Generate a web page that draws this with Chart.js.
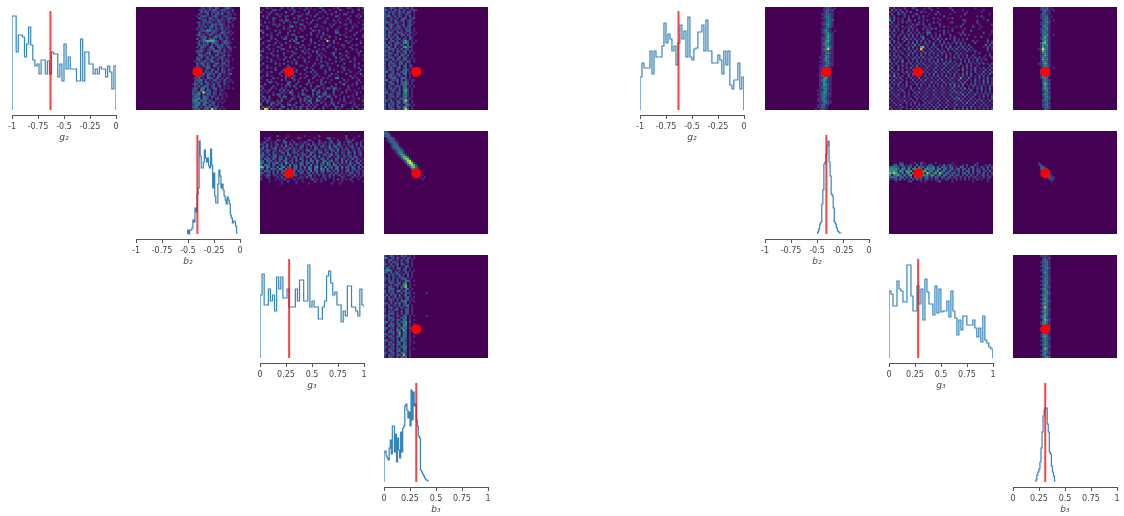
<!DOCTYPE html>
<html>
<head>
<meta charset="utf-8">
<title>Corner plots</title>
<script src="https://cdn.jsdelivr.net/npm/chart.js@4"></script>
<style>
  body { margin: 0; background: #fff; width: 1124px; height: 516px; overflow: hidden; position: relative; }
  canvas { position: absolute; }
</style>
</head>
<body>
<script>
// true parameter values (red marks)
const truthG2 = -0.63;
const truthB2 = -0.41;
const truthG3 = 0.28;
const truthB3 = 0.31;

const negTicks = ['-1', '-0.75', '-0.5', '-0.25', '0'];
const posTicks = ['0', '0.25', '0.5', '0.75', '1'];

// histograms, left corner
const histG2Left = [94,94,58,75,75,73,53,66,83,65,50,44,46,36,50,50,36,49,36,58,56,56,33,46,29,66,41,53,41,41,41,29,29,71,29,58,58,46,46,36,41,36,43,41,41,33,44,38,21,44];
const histB2Left = [4,0,4,4,6,14,12,26,22,40,46,93,78,66,66,72,84,76,72,76,68,66,85,69,46,61,38,31,31,50,64,58,46,50,44,38,34,30,37,34,30,19,16,11,13,13,8,1];
const histG3Left = [63,84,53,53,69,57,63,47,81,69,81,60,60,69,51,51,51,69,57,78,78,57,57,93,51,57,51,51,39,39,51,57,82,87,75,63,66,53,53,36,47,42,72,72,51,51,47,42,69,53,51];
const histB3Left = [30,31,26,24,22,34,42,28,56,56,30,48,20,44,32,24,50,30,54,56,76,78,72,64,70,56,92,62,90,76,78,62,56,46,44,12,10,8,6,4,2,2,1];
// histograms, right corner
const histG2Right = [33,47,42,42,42,59,36,59,53,53,53,64,87,67,76,71,59,64,45,67,85,71,79,53,93,53,50,61,62,78,78,85,59,90,59,59,47,47,47,55,50,36,59,45,59,25,21,30,30,47,21,33];
const histB2Right = [2,5,10,12,30,44,70,72,80,88,93,72,58,40,38,26,12,10,6,3,2,1,1];
const histG3Right = [67,64,52,52,77,69,67,56,56,93,93,62,47,47,72,54,69,38,79,66,54,54,43,72,45,69,46,47,47,57,41,67,47,40,23,38,28,42,42,33,33,33,38,30,21,30,16,42,18,15,11,9];
const histB3Right = [2,7,10,13,20,34,50,66,72,74,74,58,50,30,28,16,10,6,1];

// 2d histograms, one string per row from the top, '.' is an empty bin, 1-9 is the count level
const heatG2B2Left = [
"....12.121.32..1341...",
"...1212.2132.12211.2..",
"....3122.1213.2112.1..",
"...21.13.2.2213..21.1.",
"..1.2321.1231.12211...",
"...3211.42.21.2.12212.",
"....123.212.3211.3.1..",
"..12.31231.12211.21...",
"...212.1.3221321.1.1..",
"...2113.2412.131.2.1..",
"..2.31.122.2113.21....",
"...1223541221.22.11...",
"...31.12.221.14212.1..",
"..2412.132.122.21.1...",
"...1223.1.2413.121....",
"..3.142.3221.22.21.1..",
"...2135666521.1231....",
"..12.213.2321.13221...",
"...31221.2.2213.21....",
"..2.421.231.3221.41.1.",
"...131.1223.13.2.12...",
"..3241.12.2422.31.1...",
"..121.133.1.3121.1....",
"...3412.21.32.13.21...",
"..213.14.22.1231.1....",
"..331.1223.12.3.21.1..",
".1.2123.142.1.2112....",
"..3142.31.132.23.1....",
"..21.4131.32.12.21....",
".1321.242.1.3.21.1.1..",
"..213.12.31.2.31.21...",
"..342.3112.41.22.1....",
".12.13.2312.13.1.13...",
"..3221.41.2.22.1.1....",
".213.1.332.13.1.21....",
".1324.2.1.32.2.31.1...",
".2132.32.2.121.2.1.1..",
"132.4.131.3.21.21.....",
".213.242.22.13.1.1....",
"132.35.3.132.1.1.1.1..",
"231.62.42.12.12.......",
"2134.9313.21.1.1......",
"3245.2.42.21.21.1.....",
"1432.432.31.1.1.1.....",
"2345.342.1.22.1.......",
"354.423.31.1.1.1......",
"2435.342.23.1.1.......",
"1343.42.312.1.........",
"234.2.323.121.1.......",
"1323.133.832.1.1......"
];
const heatG2G3Left = [
"...2.1....2..1.3...1..2.1...12.....1.2....21...1.2",
".1....22.1....1.2....2.1..1...2..1....21....1..2..",
"2..1.2......3...2.1....2....11.2....2.....1.2....1",
"....2..12.1....2....1.21...2....1.2...1.22.....1..",
".2.1.....2..21....22....1.2...1.....22.....1..2.2.",
"...2..31....1...2.1...2.....21..2.....1...2....1..",
"1.....2..12.32....1.2....2.1...1...2.1...1.2.....1",
"..2.1.1....2..1.22....1.2.....12....1.2....2...1..",
"2.....21.2....1....32..1...2.....1.2....12...1...2",
".1.2....2..1..25.1...2....21.1....2...1.....2.1...",
"...21......2.1.....2.1..2.....1.2....1...2..1....2",
"31.....2.1....2.2...1....21.2...1...21.....2....1.",
".3...1...2...2....1.....2...1.2.....32...1....2...",
"...2.1..2....1.22.....1.2..1..2.1.....2.1....2...1",
".1...2....1.2....2.32......1.2...3..1....2.1.....2",
"2....1.2...22..1.3...1..2....1.2....1.2.....1.2...",
"...12...1.....2.31..2...2...1...81.2.....2.1....1.",
".2.....2.1..2....23.....1.2...1....2.1....2.....2.",
"1...2.1...2...1.....2..1....2.1..2.....21...1.2...",
"...2....21....2.1..2.1....2.....2..1....1..2.....1",
".1..2.1...22.....2...1.2....1.2.....2.1.....2.1...",
"22....1.2....1.2....3.1..2.3...1....1....2....1.2.",
"...1.2.....2....21...2.1...2.1....14..2...1....2..",
"4.....2.2..1...2...1....1...2.1....2...1.2.....1.1",
".1.2....1...2.2...2.1..2...1.2.1....3.1...2..1....",
"2....2...1.2....2....2.....2.1...2.....21....2...1",
"...1.2.1.....2.1.2...2.1.....2.1....2.1....2.1....",
".2.....2.1.2...1.3....1...2.1...2.1.....2....1.2..",
"1..2.....1...2.....21....2...22.1....2.1.....2...1",
"...2.1.2....1.2.1.....2.1....2...2.....12....1.2..",
".1.....2...2...1.2...2...2.....1.2.1....2.1.....2.",
"2..1.2....2.1..6.2....1.2.2....2.....2.1...2...1..",
"...2.....2.....1...2.1...1.2...1..2.1....2....1.3.",
".1.2.1....1.2...2.....2...2.1....2...1.....2.1...1",
"2.....2.1...2..31..2.1...2....2.1...34.1....2.1...",
"...2.1....2.1...2.1....2...1.2....1.....2.1....2..",
"1...32.1.....23...2....2.1...2.2.1....2..1....2.1.",
"..2.....2.1..41..2....2.1....21.....2..14...1.2...",
"31....2.....2.2.3..2....2..32.1...2.1.....2.1....1",
".2...2.1..2.1....2...2..1.2...1.32.42.1...2....1.2",
"2.1.3....2.3.1.2....3.2..41.2..1...3.1...2.1.1....",
".1.2..1...2.1.52..1.2....2.23.14...2...2.1....2.1.",
"2.....2.32.1...2..1.42...3.2..43.1.2..1.....1.2...",
".31.2....2.32...1.2...23.1..521.34..2...1.2.1....1",
"1.2.2.....2.1..31..2.41.2..3.1.2..2...1.2....1.2..",
".2.31...2.3...2....3.2.42..52.1...2...1.2...1....2",
"2..2.23.12...1...2.1..2.3.1..2.1..31.2...1.2.1....",
"3....3.12.2..23.2...2..2.1.2...2.1.3...21....2.1.1",
".2.12.1...23...1.2.31.2.1.2...2.1...31.2....1.2...",
"2.98.2.1.31..2.2.1.3..21.2..1.2...1.2.1...1.2..1.3"
];
const heatG2B3Left = [
"2.1321.23.12.2..",
"32.2.312.21.1121",
"2.3121.412.32.1.",
"312.3.121.221.1.",
"2241.3.31.2.3.1.",
"3.121.2.132.112.",
"21.3.31.42.121..",
"3321.321.2.13.1.",
"2.232.2.13.121..",
"3.141.33.2.32...",
"2312.3121.312.1.",
"3.212.3.2.132.1.",
"2.331.232.2.21.1",
"3121.41.33.21.1.",
"2.412.3.1.2.31..",
"32.3.123.21.21..",
"2.123.2.1352.1.1",
"3.31.232.452.11.",
"22.3.31.31.3.1..",
"3141.3.1.56221..",
"2.323.2.3.22.1..",
"321.2.32.33.21..",
"2.331.3.214.1.1.",
"3121.32.33.3.1..",
"2.232.14.221.1..",
"331.4.32.33.1.1.",
"2.13.2.231.41.1.",
"3.2231.33.2.1...",
"2.3123.2.24.21..",
"3.131.24.13.11..",
"2.232.31.332.1..",
"33.13.1.324.1.1.",
"2.122.32.33.1...",
"3.2312.31.2.1.1.",
"2.12331.342.1...",
"33.1213.2.31.11.",
"2.231.3.2341.1..",
"3.123.1.3342.1..",
"2.31.232.43.1.1.",
"3.2312.3.351.1..",
"21.231.3.462.1..",
"33.12.32.361.1..",
"2.231.23.442.1..",
"3.123.31.351.1..",
"2.31.2.133411...",
"32.31.32.482.1..",
"2.123.23.351.1..",
"3.312.3.1.341.1.",
"2.231.23.451.1..",
"3.123.12.392.1.."
];
const heatB2G3Left = [
"","",
"........2....1.......1......2............2.....1..2...",
"..1.2.......1.....21......1.....23.1.....2...1....2.",
"...21...21.2...1.......21...2....21..2...12.2....1.",
".12..1.2...23.1.2..1.21..2..21.2.13..12.1.32..1.2.",
"21.3.1.13.1.2.21.31.2.13.21.2.21.3.2.32.1.2.1.3.2.",
".213.2.21.2.41.2.1.23.1.2.31.23.13.24.21.1.23.1.21",
"13.2.124.1.3.13.21.31.2.1.32.1.2.42.13.2.31.21.3.1",
"2.132.12.31.22.13.2.1.33.12.31.21.32.4.12.3.12.21.",
"12.31.3.1.32.3.132.12.1.321.34.13.2.31.21.32.3.12.",
"231.3.23.1.2.42.1.3.32.13.2.1.23.24.22.12.31.2.13.",
"32.3.124.23.2.2.32.12.42.23.4.1.23.1.31.21.3.32.1.",
"2.323.41.32.41.2.3.42.1.3.21.33.2.1.32.31.2.4.21.1",
"32.423.2.3.23.12.31.3.2.42.51.34.23.21.3.4.2.13.2.",
"43.13.324.2.52.3.1.42.33.2.3.14.52.3.2.3.2.41.23.1",
"3.432.41.23.2.4.32.33.2.4.12.32.33.43.2.1.23.3.12.",
"76.53.2.4.35.23.24.2.4.32.35.3.5.23.23.4.32.41.3.2",
"32.4.332.54.3.5.32.3.2.43.42.53.4.2.32.2.13.23.21.",
"2.323.2.4.23.42.3.313.2.4.23.24.33.2.3.1.23.2.31.2",
"32.12.3.2.31.2.321.32.13.2.3.12.1.2.31.2.1.32.12.1",
"2.123.12.1.3.12.32.1.1.23.1.2.21.3.2.12.1.21.3.1.2",
"1..21...2.3.12.1.1.21.3.2.1...21.2.1...21...2.1.1.",
"2...1..1.1.21...2.1.1...12.1.1.2...1.2.1.1.2...1..",
"....1.....1..2...1..1.....2..1.....1...1....1....1",
"..........1......1.....1..........1...1..........."
];
const heatB2B3Left = [
"22","332","2331",".1332",".12331","..13431","...1342","...13441","....23531",".....13541",".....12551","......13651",".......14762","........15871",".........14881","..........26971","...........25862","............26731",".............3531","..............1321","...............111","................1.1",".................1.1","..................1"
];
const heatG3B3Left = [
"2.132.1.312.1.1.",
"33.12.31.2.21.1.",
"1.231.2.3.22.1..",
"2.3.231.2.13.1..",
"31.3.13.32.1.1..",
"2.213.2.1.32.1..",
"142.1.33.13.1...",
"2553.1.2.22.1.1.",
"32.3.23.1.31.1..",
"1.313.23.2.3.1..",
"2.2.31.321.2.1..",
"312.3.2.332.1...",
"2.312.3.1.431.1.",
"1.232.14.24.1...",
"31.2.331.56.1.1.",
"2.321.2.327.1...",
"1.233.1.2.43.1..",
"3.312.35.23.1...",
"2.123.1.2.321.1.....1",
"13.313.3.14.1..",
"3.2.13.21.331.1.",
"2.322.3.2.24.1..",
"1.131.2.335.1.1.",
"32.2.314.23.1...",
"2.3.12.3.234.1..",
"1.231.2.31.3.1..",
"3.12.33.1.42.1..",
"2.312.1.3.23.1..",
"1.233.2.2.32.1..",
"312.1.31.33.1.1.....1",
"2.332.1.324.1...",
"1.213.22.43.1.1.",
"33.21.3.335.2...",
"2.132.23.45.1.1.",
"1.323.14.54.1...",
"32.12.3.534.2.1.",
"2.131.43.63.1...",
"1.323.25.34.1.1.",
"32.13.16.43.1...",
"2.331.43.53.1.1.",
"1.123.2.433.1...",
"33.12.3.542.1...",
"2.231.34.33.1.1.",
"1.313.23.52.1...",
"31.22.3.434.1...",
"2.313.23.53.1.1.",
"1.231.34.23.1...",
"31.23.2.342.1...",
"2.312.33.82.1...",
"1.231.2.423.1..."
];
const heatG2B2Right = [
"....1121.1","....12312.","....13211.","...112321.","....23421.","...113421.","....12423.","...113431.","...123521.","....12531.",
"...11431..","...13521.1","...124511.","....13531.","...114621.","...123521.","...115621.","...134511.","...125421.","...114631.",
"...135921.","...124311.","...113521.","...124311.","..1116421.","...135311.","..1124511.","...113421.","..1125311.","..113421..",
"..123511..","..114311..","..134211..","..123521..","..114611..","..135421..","..125311..","..116421..","..134511..","..125321..",
".1113511..","..126411..",".1134321..","..125311..",".113421...",".1125311..","..113421..",".112411...",".11321....","1.1221...."
];
const heatG2G3Right = [
"1.2.1..2...21....1.2...1.....2...........1........",
".3.2.2..1....2..1...2.........2....1.........1....",
"2.1.2.3.1.2....2.1.....2.......1.....1......1.....",
".2..31.2....12.....1..2.1....1......2...........1.",
"1.2....2.1.2..1.2.1.......2.......1.......1.2.....",
"2.3.1.1..2....2.1....2.1....1.2..............1....",
"5.2.1.2..31.2...1.2.....1..........12.....1....2..",
".3..1.2.2.1...2.1....2.1.....12.....1.....2.......",
"2.1.2....1.2.31.2..2....2..........2.......1.....2",
".2.3..2.1.3.1....2.1....1.2.1...1.2.....2...1.....",
"1.1.2..1.2.2.1..2.1.2.2.......1.....1......1......",
"2.3.1.2..3.1.2....21....1.2.1.2....1...2.........1",
".2.1..2.1.2.1.2.1.34..1...2.1....1.2.........2...1",
"1.3..2.1.3.2.2.1..2.1.1.2.1..2....2.2.1.........1.",
"4.1.2..3.1.2.1.23...2.1.2....1.2.........1..2.....",
".2..1.2.4.2.2.1.4.1..2.3.1.3.1.2.1.1.2.........1..",
"2.3.1..2.1.1.3.2.1.2..1.2.1....2.1.1....2.1....2.1",
"3.1.2.1..2.3.2.1.3.1.2..1.2.2.1.3.2.1....2.....1.2",
".2.1.3..2.1.4.2.1.2..3.1.3.1.2..1.2.1.2.......3.2.",
"1.2.3.1..2.3.1.67.1.2.2..1.2.4.1.2.3.1.2.....1.2.1",
"2.3.1..2.3.1.2.9.1.2.1.3.1..3.2.3.1.2.2.1......2.1",
".1.3.2..1.2.3.1.2.1.3.1.2.2.1..2.1.1.2.1.2.....1..",
"1.2.1.3..2.3.1.2.3.2.2.1.3.1.2..3.2.1....1.2....1.",
"2.3.2..1.3.1.2.3.1.2.1.3.1.2.1.1.2.1.3..2.....1.2.",
".1.2.3..2.1.3.2.4.1.3.2.1..4.1.3.2.1.2.1.2.2.1...2",
"2.3.1.2..1.3.2.1.2.3.1.2.4.1.2..1.3.1.2.1.3.1.2...",
"4.1.2.5..2.1.3.2.1.2.2.3.1.2.3.2..1.2.3.1.2.1.....",
".2.3..1.2.3.1.2.3.1.2.3.1.4.2.1.2.3..1.2.1.2.3.1.2",
"2.1.2.3.1..2.4.1.2.2.1.2.1.3.1.2.3.1.3.2..1.....2.",
".3..2.1.2.3.1.2.1.3.1.3.1.2.1.3.1..2.2.1.3.1.2.1.2",
"2.1.3.2..1.2.3.1.2.1.2.1.3.1.2.1.2.4.1.2.3..1.2.2.",
".2.1..2.3.1.2.1.3.2.1.4.1.2.3.1.2..1.2.1.2.1.3.1.2",
"1.3.2..1.2.3.1.2.1.2.3.1.2.1.2.3.1.3.2.3..1.2.1.3.",
"2.5.1.2..3.1.2.1.3.1.2.3.1.4.1.2.1.2.1.2.1.2.2.1..",
".1.2.3..1.2.1.3.1.2.2.1.2.1.2.3.1.6.1.3..1.2.1.3.1",
"2.3.1.2.1..3.1.2.3.1.1.2.3.1.2.1.3.1.2.1.3.1.2.2.1",
".2.1.3..2.1.2.1.2.1.3.2.1.3.1.2.1.2.3..1.2.1.3.3.1",
"1.2.3.1.2..1.3.2.1.2.1.2.1.2.3.4.1.4.1.2.3.1.2.1.2",
"2.1.2.1.3.2..1.2.1.3.2.1.3.1.2.4.3.2..1.3.1.2.1.2.",
".3.1.2.1..2.1.3.1.2.1.2.1.2.1.3.1.2.4.2.1.2.3.1.3.",
"2.1.2.3..1.2.1.1.2.1.3.1.2.1.2.3.1.2.1.4..1.3.1.2.",
".2.1.1.2.1..2.3.1.2.1.2.1.2.1.2.4.3.1.3.1.2.1.2.1.",
"1.2.3..1.2.1.2.1.2.1.3.1.2.1.3.1.2.4.2.1.3.1.2.3.1",
".1.2.1.3.1..2.1.2.2.1.2.1.2.1.2.3.1.2.1.2..1.3.1.2",
"2.1.2.1.1.2..3.1.2.1.2.3.1.2.1.3.5.2.1.3.1.2.1.1.2",
".2.1.2.3.1.2.1..2.1.2.1.2.1.3.1.2.3.1.2.1.2.3.1.2.",
"1.2.1.1.2.1.3.1..2.3.1.2.1.2.1.2.1.2.4.1.3.1.2.1.1",
".1.2.3..1.2.1.2.2.1.2.1.3.1.2.1.3.1.2.1.2.1.2.2.1.",
"2.1.1.2.1..1.2.1.2.1.2.2.1.3.1.2.1.2.1.3.1.2.1.2.1",
".2.1.2..1.2.1.3.1.2.1.3.1.2.1..3.1.2.3.1.2.1.2.1.2"
];
const heatG2B3Right = [
"..1213.1..","..12321.1.","...2311...","..13211...","..1233.1..","..12341...","...2431.1.","..12352...","..12431...","...3531...",
"..12351...","..14341...","..13521...","...4351.1.","..13631...","..14531...","...3641...","..26731...","..15451...","..16341...",
".129541...","..17431...","..14531...","..13641...","..15431...","..16351...","..14521...",".113641...","..12532...","...4541.1.",
"..13631...","..15431...","..14621...","..15341...","..1352....","...2432...","...3531...","...2742...","...2531...","...2642...",
"...2451...","...1342...","...2531...","...1352...","...1433...","...2341...","...1232...","...2341...","...1232...","....321..."
];
const heatB2G3Right = [
"","","","","","","","","","","","","","","",
".....21.....1..21.....1.......1...........1.......",
"..23.24.1.2..3.2.1.32...1.3.12.1...1.2...21...1.2.",
"33432.23.42.3.423.4334.3.322.32.1.32.1.23.1.21.3.2",
"45453.54.5.35453.45435.34.33.23.23.22.2.3.21.3.2.1",
"5465.64.645.4.5656.45.35.34.23.2.3.2.32.3.23.12.3.",
"75864.5.46.5.4564.85.46.74.34.33.2.23.3.2.12.3.1.2",
"5.4564.5.46.54.5545.64.34.43.23.32.2.3.21.2.13.2.1",
"3434.34.3.4.3534.34.3.32.32.32.21.2.1.2.12.1.2.12.",
"1.2213.2.1.2.312.22.1.21.1.21.1.2.1.2.1.1.2.1..1..",
"...1.....12....1.1.....12.....1.........1......1.."
];
const heatB2B3Right = [
"","","","","","","","","","","","","","","",
"............1","............12",".............231",".............2431","..............3531","..............2542","...............2431","................2321",".................121","..................1"
];
const heatG3B3Right = [
"..11211...","...1212...","...2321...","..12331...","...2341...","..12431...","...2352...","..12431...","...2531...","...1431...",
"..12341...","...1532...","..12431...","...2351...","..12531...","...1432...","..13521...","...2441...","...2352...","..13531...",
"...2541...","..13631...","...2452...","..14631...","...3541...","..13841...","...2532...","..14631...","...2541...","..13631...",
"..14521...","...2742...","..13531...","..14621...","...2532...","..13541...","..14631...","...2541...","..13521...","..14631...",
"...2532...","..13431...","...2541...","..13531...","...2432...","...2741...","..13431...","...2522...","..13411...","...1352..."
];

// viridis colours by count level
const viridis = ['#440154', '#472d7b', '#3b528b', '#2f6c8e', '#26828e', '#1f9e89', '#35b779', '#6ece58', '#b5de2b', '#fde725'];

const fontFamily = '"DejaVu Sans", sans-serif';
const textColor = '#444';
const plotWidth = 104;
const sideGap = 16;

function addCanvas(left, top, w, h) {
  const c = document.createElement('canvas');
  c.width = w;
  c.height = h;
  c.style.left = left + 'px';
  c.style.top = top + 'px';
  c.style.width = w + 'px';
  c.style.height = h + 'px';
  document.body.appendChild(c);
  return c;
}

// fills the plot area with the empty-bin colour
const panelBackground = {
  id: 'panelBackground',
  beforeDatasetsDraw(chart) {
    const a = chart.chartArea;
    chart.ctx.fillStyle = viridis[0];
    chart.ctx.fillRect(a.left, a.top, a.right - a.left, a.bottom - a.top);
  }
};

function histChart(left, top, values, start, step, truth, range, ticks, label, dropEnd) {
  const points = [{ x: start, y: 0 }];
  values.forEach((v, i) => points.push({ x: start + i * step, y: v }));
  const end = start + values.length * step;
  points.push({ x: end, y: values[values.length - 1] });
  if (dropEnd) points.push({ x: end, y: 0 });

  new Chart(addCanvas(left - sideGap, top, plotWidth + sideGap * 2, 136), {
    type: 'line',
    data: {
      datasets: [
        { data: [{ x: truth, y: 0 }, { x: truth, y: 99 }], borderColor: 'rgba(255,0,0,0.75)', borderWidth: 2, pointRadius: 0 },
        { data: points, borderColor: 'rgba(31,119,180,0.9)', borderWidth: 1.2, pointRadius: 0, stepped: true }
      ]
    },
    options: {
      responsive: false,
      animation: false,
      layout: { autoPadding: false, padding: { left: sideGap, right: sideGap, top: 0, bottom: 0 } },
      plugins: { legend: { display: false }, tooltip: { enabled: false } },
      scales: {
        x: {
          type: 'linear',
          min: range[0],
          max: range[1],
          afterBuildTicks: s => { s.ticks = ticks.map(t => ({ value: Number(t) })); },
          afterFit: s => { s.height = 28; s.paddingLeft = 0; s.paddingRight = 0; },
          grid: { drawOnChartArea: false, tickLength: 4, tickColor: '#555' },
          border: { color: '#555' },
          ticks: {
            autoSkip: false, maxRotation: 0, padding: 3, color: textColor,
            font: { family: fontFamily, size: 8 },
            callback: v => String(v)
          },
          title: { display: true, text: label, color: textColor, padding: 0, font: { family: fontFamily, size: 9, style: 'italic' } }
        },
        y: { display: false, min: -5, max: 103 }
      }
    }
  });
}

function heatChart(left, top, rows, startCol, xRange, yRange, truthX, truthY) {
  const cols = 50;
  const xw = (xRange[1] - xRange[0]) / cols;
  const yw = (yRange[1] - yRange[0]) / cols;
  const cells = [];
  const colors = [];
  rows.forEach((row, r) => {
    [...row].forEach((ch, i) => {
      if (ch === '.') return;
      cells.push({ x: xRange[0] + (startCol + i + 0.5) * xw, y: yRange[1] - (r + 0.5) * yw });
      colors.push(viridis[Number(ch)]);
    });
  });

  new Chart(addCanvas(left, top, plotWidth, 103), {
    type: 'scatter',
    data: {
      datasets: [
        { data: [{ x: truthX, y: truthY }], pointStyle: 'circle', pointRadius: 5, pointBackgroundColor: '#ff0000', pointBorderWidth: 0 },
        { data: cells, pointStyle: 'rect', pointRadius: 1.55, pointBackgroundColor: colors, pointBorderWidth: 0 }
      ]
    },
    options: {
      responsive: false,
      animation: false,
      layout: { autoPadding: false, padding: 0 },
      plugins: { legend: { display: false }, tooltip: { enabled: false } },
      scales: {
        x: { display: false, type: 'linear', min: xRange[0], max: xRange[1] },
        y: { display: false, type: 'linear', min: yRange[0], max: yRange[1] }
      }
    },
    plugins: [panelBackground]
  });
}

const neg = [-1, 0];
const pos = [0, 1];
const rowTops = [7, 131, 255, 379];
const colsLeft = [12, 136, 260, 384];
const colsRight = [640, 765, 889, 1013];

// left corner
histChart(colsLeft[0], rowTops[0], histG2Left, -1, 0.02, truthG2, neg, negTicks, 'g₂', true);
heatChart(colsLeft[1], rowTops[0], heatG2B2Left, 27, neg, neg, truthB2, truthG2);
heatChart(colsLeft[2], rowTops[0], heatG2G3Left, 0, pos, neg, truthG3, truthG2);
heatChart(colsLeft[3], rowTops[0], heatG2B3Left, 0, pos, neg, truthB3, truthG2);
histChart(colsLeft[1], rowTops[1], histB2Left, -0.503, 0.01, truthB2, neg, negTicks, 'b₂', false);
heatChart(colsLeft[2], rowTops[1], heatB2G3Left, 0, pos, neg, truthG3, truthB2);
heatChart(colsLeft[3], rowTops[1], heatB2B3Left, 0, pos, neg, truthB3, truthB2);
histChart(colsLeft[2], rowTops[2], histG3Left, 0, 0.02, truthG3, pos, posTicks, 'g₃', false);
heatChart(colsLeft[3], rowTops[2], heatG3B3Left, 0, pos, pos, truthB3, truthG3);
histChart(colsLeft[3], rowTops[3], histB3Left, 0, 0.01, truthB3, pos, posTicks, 'b₃', false);

// right corner
histChart(colsRight[0], rowTops[0], histG2Right, -1, 0.0192, truthG2, neg, negTicks, 'g₂', true);
heatChart(colsRight[1], rowTops[0], heatG2B2Right, 24, neg, neg, truthB2, truthG2);
heatChart(colsRight[2], rowTops[0], heatG2G3Right, 0, pos, neg, truthG3, truthG2);
heatChart(colsRight[3], rowTops[0], heatG2B3Right, 11, pos, neg, truthB3, truthG2);
histChart(colsRight[1], rowTops[1], histB2Right, -0.494, 0.01, truthB2, neg, negTicks, 'b₂', false);
heatChart(colsRight[2], rowTops[1], heatB2G3Right, 0, pos, neg, truthG3, truthB2);
heatChart(colsRight[3], rowTops[1], heatB2B3Right, 0, pos, neg, truthB3, truthB2);
histChart(colsRight[2], rowTops[2], histG3Right, 0, 0.0192, truthG3, pos, posTicks, 'g₃', true);
heatChart(colsRight[3], rowTops[2], heatG3B3Right, 11, pos, pos, truthB3, truthG3);
histChart(colsRight[3], rowTops[3], histB3Right, 0.219, 0.01, truthB3, pos, posTicks, 'b₃', false);
</script>
</body>
</html>
